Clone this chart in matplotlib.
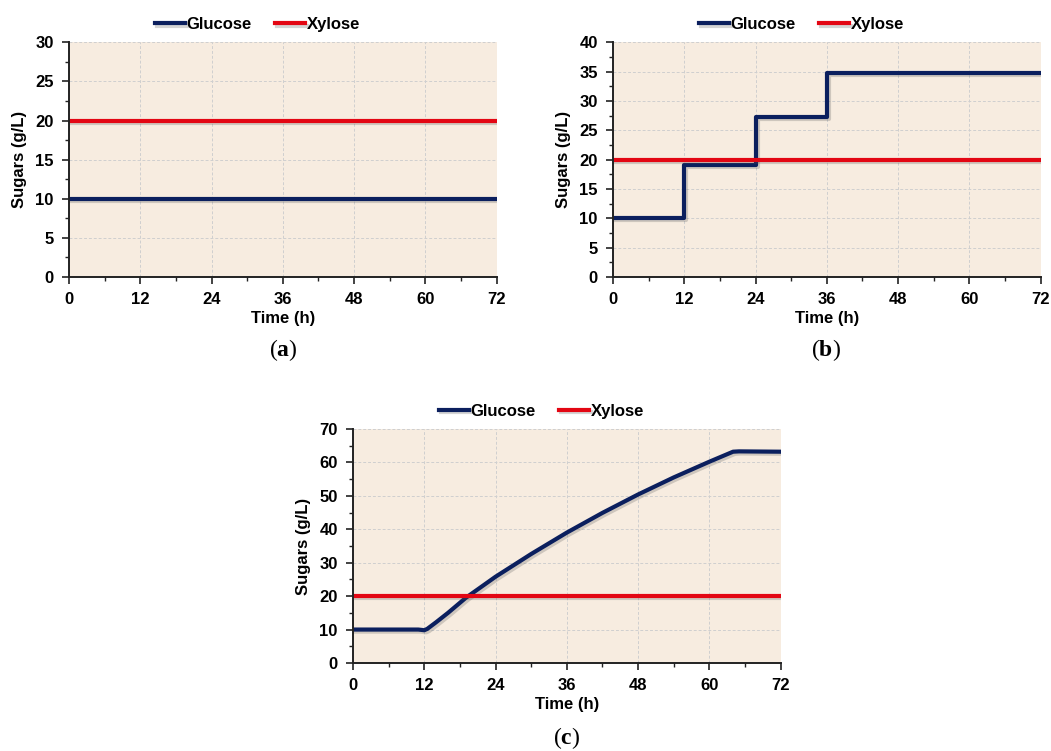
import matplotlib
matplotlib.use("Agg")
import matplotlib.pyplot as plt
import matplotlib.patheffects as pe
from matplotlib.ticker import MultipleLocator

plt.rcParams['font.family'] = ['Liberation Sans', 'DejaVu Sans']
plt.rcParams['mathtext.fontset'] = 'custom'
plt.rcParams['mathtext.rm'] = 'Liberation Serif'
plt.rcParams['mathtext.bf'] = 'Liberation Serif:bold'

# ---- data ----
time_a = [0, 72]
glucose_a = [10, 10]
xylose_a = [20, 20]

time_b = [0, 12, 24, 36, 72]
glucose_b = [10, 19.1, 27.3, 34.8, 34.8]
xylose_b = [20, 20, 20, 20, 20]

time_c = [0, 10, 11, 12, 12.5, 14, 16, 19, 24, 30, 36, 42, 48, 54, 60, 64, 65, 72]
glucose_c = [10, 10, 10, 9.8, 10.2, 12.2, 15, 19.5, 25.8, 32.6, 39, 44.9, 50.4, 55.5, 60.2, 63.2, 63.3, 63.2]
xylose_c_time = [0, 72]
xylose_c = [20, 20]

series_names = ['Glucose', 'Xylose']
xticks = [0, 12, 24, 36, 48, 60, 72]
panel_labels = ['a', 'b', 'c']

GLU = '#0b1f5e'
XYL = '#e30613'
BG = '#f7ece0'
FS = 12

fig = plt.figure(figsize=(10.51, 7.51), dpi=100)

def shadow():
    return [pe.SimpleLineShadow(offset=(1.5, -1.5), alpha=0.25, shadow_color='#555555'), pe.Normal()]

def setup(ax, ymax, ymaj, ymin):
    ax.set_facecolor(BG)
    ax.set_xlim(0, 72)
    ax.set_ylim(0, ymax)
    ax.set_xticks(xticks)
    ax.xaxis.set_minor_locator(MultipleLocator(6))
    ax.yaxis.set_major_locator(MultipleLocator(ymaj))
    ax.yaxis.set_minor_locator(MultipleLocator(ymin))
    ax.grid(True, which='major', color='#cfcfcf', linestyle=(0, (3, 2)), linewidth=0.7)
    ax.set_axisbelow(True)
    for s in ['top', 'right']:
        ax.spines[s].set_visible(False)
    for s in ['left', 'bottom']:
        ax.spines[s].set_linewidth(1.4)
        ax.spines[s].set_color('#222222')
    ax.tick_params(which='major', length=5, width=1.2, color='#222222', labelsize=FS, pad=6)
    ax.tick_params(which='minor', length=3, width=1.0, color='#222222')
    for lab in ax.get_xticklabels() + ax.get_yticklabels():
        lab.set_fontweight('bold')
    ax.set_xlabel('Time (h)', fontsize=FS, fontweight='bold', labelpad=3)
    ax.set_ylabel('Sugars (g/L)', fontsize=FS, fontweight='bold', labelpad=6)
    ax.legend(loc='lower center', bbox_to_anchor=(0.44, 1.0), ncol=2, frameon=False,
              prop={'weight': 'bold', 'size': FS}, handlelength=1.8, handletextpad=0.1,
              columnspacing=1.4, borderaxespad=0.2)

w, h = 0.4068, 0.3125
ax_a = fig.add_axes([0.0657, 0.6312, w, h])
ax_a.plot(time_a, glucose_a, color=GLU, lw=3, label=series_names[0], path_effects=shadow())
ax_a.plot(time_a, xylose_a, color=XYL, lw=3, label=series_names[1], path_effects=shadow())
setup(ax_a, 30, 5, 2.5)

ax_b = fig.add_axes([0.5833, 0.6312, w, h])
ax_b.step(time_b, glucose_b, where='post', color=GLU, lw=3, label=series_names[0], path_effects=shadow())
ax_b.plot(time_b, xylose_b, color=XYL, lw=3, label=series_names[1], path_effects=shadow())
setup(ax_b, 40, 5, 2.5)

ax_c = fig.add_axes([0.3359, 0.1172, w, 0.3116])
ax_c.plot(time_c, glucose_c, color=GLU, lw=3, label=series_names[0], path_effects=shadow())
ax_c.plot(xylose_c_time, xylose_c, color=XYL, lw=3, label=series_names[1], path_effects=shadow())
setup(ax_c, 70, 10, 5)

for ax, lab, (x, y) in zip([ax_a, ax_b, ax_c], panel_labels,
                           [(283/1051, 1-350/751), (826/1051, 1-350/751), (567/1051, 1-738/751)]):
    fig.text(x, y, r'($\mathbf{' + lab + r'}$)', ha='center', va='center', fontsize=17,
             family='Liberation Serif')

fig.savefig('out.png', dpi=100)
